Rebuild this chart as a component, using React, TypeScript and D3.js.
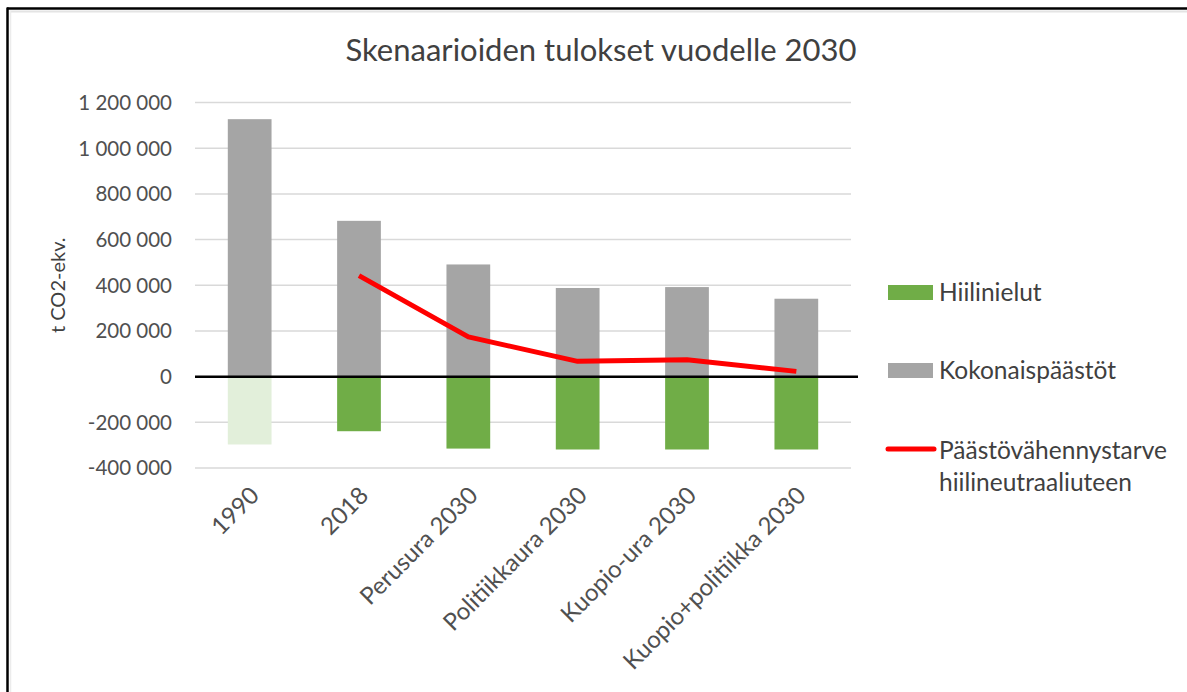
import { useEffect, useRef } from "react";
import * as d3 from "d3";

// Chart values
const categories = [
  "1990",
  "2018",
  "Perusura 2030",
  "Politiikkaura 2030",
  "Kuopio-ura 2030",
  "Kuopio+politiikka 2030",
];
const emissions = [1127000, 682000, 491000, 388000, 392000, 341000];
const sinks = [-297000, -239000, -315000, -319000, -319000, -319000];
const reductionNeed = [null, 442000, 174000, 67000, 74000, 23000];
const yTicks = [-400000, -200000, 0, 200000, 400000, 600000, 800000, 1000000, 1200000];

const title = "Skenaarioiden tulokset vuodelle 2030";
const yLabel = "t CO2-ekv.";
const legendItems = ["Hiilinielut", "Kokonaispäästöt", "Päästövähennystarve|hiilineutraaliuteen"];

const FONT = "Lato, 'Open Sans', sans-serif";

const App = () => {
  const svgRef = useRef<SVGSVGElement | null>(null);

  useEffect(() => {
    const width = 1187;
    const height = 692;
    const plot = { left: 195, right: 851, top: 102.5, bottom: 468 };

    const svg = d3.select(svgRef.current);
    svg.selectAll("*").remove();
    svg.attr("width", width).attr("height", height);

    svg.append("rect").attr("width", width).attr("height", height).attr("fill", "#fff");

    // frame of the screenshot (top and left edges only)
    svg.append("line").attr("x1", 10).attr("x2", width).attr("y1", 11.5).attr("y2", 11.5)
      .attr("stroke", "#e4e4e4").attr("stroke-width", 2);
    svg.append("line").attr("x1", 10.5).attr("x2", 10.5).attr("y1", 11).attr("y2", height)
      .attr("stroke", "#ececec").attr("stroke-width", 1.5);
    svg.append("line").attr("x1", 7).attr("x2", width).attr("y1", 8.5).attr("y2", 8.5)
      .attr("stroke", "#000").attr("stroke-width", 2.5);
    svg.append("line").attr("x1", 7.5).attr("x2", 7.5).attr("y1", 7.5).attr("y2", height)
      .attr("stroke", "#000").attr("stroke-width", 2.5);

    const x = d3
      .scaleBand()
      .domain(categories)
      .range([plot.left, plot.right])
      .paddingInner(0.6)
      .paddingOuter(0.3);

    const y = d3.scaleLinear().domain([-400000, 1200000]).range([plot.bottom, plot.top]);

    // gridlines
    svg.append("g")
      .selectAll("line")
      .data(yTicks.filter((t) => t !== 0))
      .enter()
      .append("line")
      .attr("x1", plot.left)
      .attr("x2", plot.right)
      .attr("y1", (d) => y(d))
      .attr("y2", (d) => y(d))
      .attr("stroke", "#d9d9d9")
      .attr("stroke-width", 1.5);

    // y tick labels
    const fmt = (v: number) => {
      const s = d3.format(",")(Math.abs(v)).replace(/,/g, " ");
      return v < 0 ? "-" + s : s;
    };
    svg.append("g")
      .selectAll("text")
      .data(yTicks)
      .enter()
      .append("text")
      .attr("x", 172)
      .attr("y", (d) => y(d))
      .attr("dy", "0.36em")
      .attr("text-anchor", "end")
      .attr("fill", "#505050")
      .style("font-family", FONT)
      .style("font-size", "20.5px")
      .text(fmt);

    // emissions (gray) bars
    svg.append("g")
      .selectAll("rect")
      .data(emissions)
      .enter()
      .append("rect")
      .attr("x", (_, i) => x(categories[i])!)
      .attr("y", (d) => y(d))
      .attr("width", x.bandwidth())
      .attr("height", (d) => y(0) - y(d))
      .attr("fill", "#a5a5a5");

    // carbon sink (green) bars, 1990 in a faded tint
    svg.append("g")
      .selectAll("rect")
      .data(sinks)
      .enter()
      .append("rect")
      .attr("x", (_, i) => x(categories[i])!)
      .attr("y", y(0))
      .attr("width", x.bandwidth())
      .attr("height", (d) => y(d) - y(0))
      .attr("fill", (_, i) => (i === 0 ? "#e2efda" : "#70ad47"));

    // zero line
    svg.append("line")
      .attr("x1", plot.left)
      .attr("x2", plot.right + 7)
      .attr("y1", y(0))
      .attr("y2", y(0))
      .attr("stroke", "#000")
      .attr("stroke-width", 2.5);

    // reduction need line
    const line = d3
      .line<number | null>()
      .defined((d) => d !== null)
      .x((_, i) => x(categories[i])! + x.bandwidth() / 2)
      .y((d) => y(d as number));

    svg.append("path")
      .datum(reductionNeed)
      .attr("fill", "none")
      .attr("stroke", "#ff0000")
      .attr("stroke-width", 5)
      .attr("stroke-linejoin", "round")
      .attr("d", line);

    // x labels, rotated
    svg.append("g")
      .selectAll("text")
      .data(categories)
      .enter()
      .append("text")
      .attr("transform", (d) => `translate(${x(d)! + x.bandwidth() / 2 + 5},491) rotate(-45)`)
      .attr("text-anchor", "end")
      .attr("dy", "0.35em")
      .attr("fill", "#505050")
      .style("font-family", FONT)
      .style("font-size", "24px")
      .text((d) => d);

    // title
    svg.append("text")
      .attr("x", 601)
      .attr("y", 61)
      .attr("text-anchor", "middle")
      .attr("fill", "#404040")
      .style("font-family", FONT)
      .style("font-size", "31px")
      .text(title);

    // y axis title
    svg.append("text")
      .attr("transform", `translate(58,${(plot.top + plot.bottom) / 2}) rotate(-90)`)
      .attr("text-anchor", "middle")
      .attr("dy", "0.35em")
      .attr("fill", "#404040")
      .style("font-family", FONT)
      .style("font-size", "20px")
      .text(yLabel);

    // legend
    const legend = svg.append("g").attr("transform", "translate(888,0)");
    legend.append("rect").attr("x", 0).attr("y", 285).attr("width", 45).attr("height", 15).attr("fill", "#70ad47");
    legend.append("rect").attr("x", 0).attr("y", 363).attr("width", 45).attr("height", 15).attr("fill", "#a5a5a5");
    legend.append("line").attr("x1", 0).attr("x2", 46).attr("y1", 449).attr("y2", 449)
      .attr("stroke", "#ff0000").attr("stroke-width", 5).attr("stroke-linecap", "round");

    const legendY = [292, 370, 450];
    legendItems.forEach((label, i) => {
      const t = legend.append("text")
        .attr("x", 51)
        .attr("y", legendY[i])
        .attr("fill", "#404040")
        .style("font-family", FONT)
        .style("font-size", "24.5px");
      label.split("|").forEach((part, j) => {
        t.append("tspan").attr("x", 51).attr("dy", j === 0 ? "0.36em" : "1.3em").text(part);
      });
    });
  }, []);

  return (
    <div style={{ position: "absolute", left: 0, top: 0 }}>
      <svg ref={svgRef} style={{ display: "block" }}></svg>
    </div>
  );
};

export default App;
